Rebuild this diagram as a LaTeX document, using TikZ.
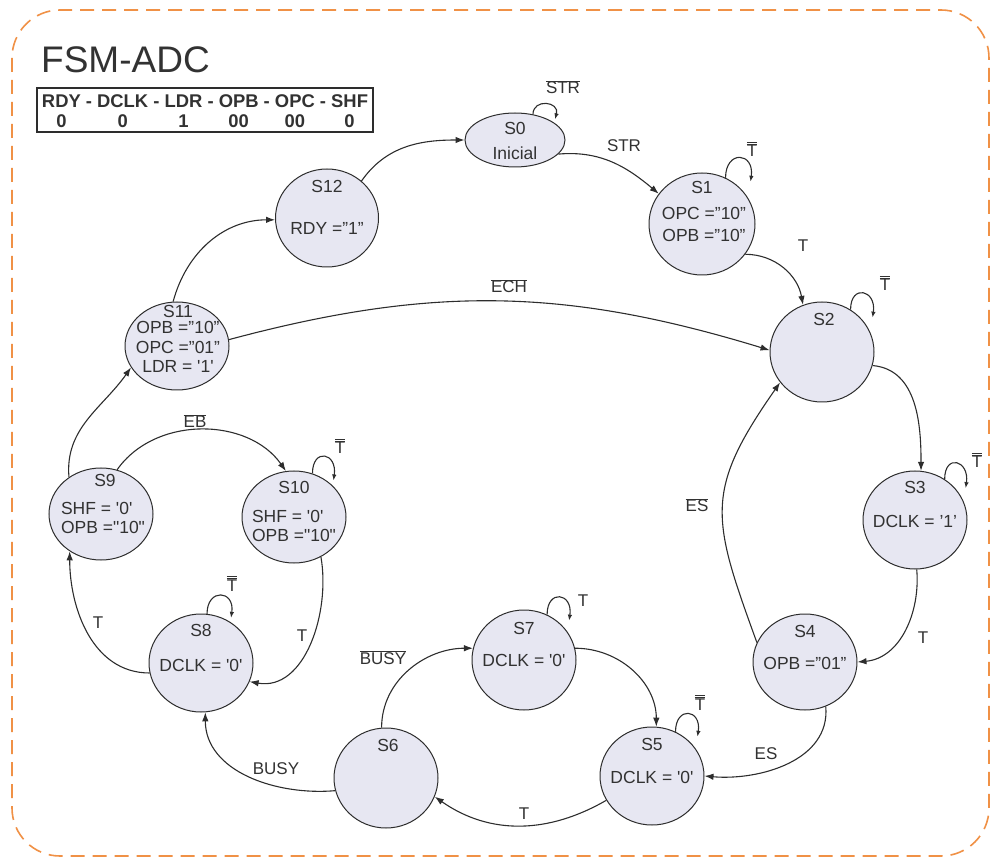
\documentclass[tikz,border=0pt]{standalone}
\usepackage{fontspec}
\setmainfont{Liberation Sans}[Ligatures=TeXOff]
\usepackage{xcolor}
\usepackage{tikz}
\usetikzlibrary{arrows.meta,shapes,positioning}

\definecolor{stfill}{RGB}{231,231,242}
\definecolor{edgecol}{RGB}{45,45,45}
\definecolor{txtcol}{RGB}{50,50,50}
\definecolor{framecol}{RGB}{240,145,70}

\newcommand{\nbar}[1]{$\overline{\mbox{#1}}$}
\newcommand{\nnbar}[1]{$\overline{\overline{\mbox{#1}}}$}

\begin{document}
\begin{tikzpicture}[x=1pt,y=1pt,
    state/.style={draw=edgecol, fill=stfill, ellipse, line width=1pt, minimum width=104pt, minimum height=98pt, inner sep=0pt},
    txt/.style={text=txtcol, font=\fontsize{17.5}{20}\selectfont, inner sep=0pt, align=center},
    lbl/.style={text=txtcol, font=\fontsize{17}{20}\selectfont, inner sep=0pt, anchor=base},
    tr/.style={->, >={Latex[length=9pt,width=6.5pt]}, draw=edgecol, line width=1.1pt},
    selfloop/.style={->, >={Latex[length=6pt,width=4.5pt]}, draw=edgecol, line width=1.1pt}]

    \useasboundingbox (0,0) rectangle (994,-858);
    \draw[framecol, line width=1.6pt, dash pattern=on 14pt off 8pt, rounded corners=48pt] (12,-10) rectangle (989,-856);

    \node[anchor=base west, text=txtcol, font=\fontsize{37}{40}\selectfont, inner sep=0pt] (title) at (41,-73) {FSM-ADC};
    \node[draw=edgecol, line width=1.5pt, inner sep=0pt, minimum width=336pt, minimum height=44pt] (tab) at (205,-110) {};
    \node[inner sep=0pt, text=txtcol, font=\bfseries\fontsize{18.4}{20}\selectfont] (tabt) at (205,-114)
        {\begin{tabular}{@{}c@{ }c@{ }c@{ }c@{ }c@{ }c@{ }c@{ }c@{ }c@{ }c@{ }c@{}}RDY & - & DCLK & - & LDR & - & OPB & - & OPC & - & SHF\\ 0 && 0 && 1 && 00 && 00 && 0\end{tabular}};

    % states
    \node[state, minimum width=100pt, minimum height=54pt] (S0) at (515,-140) {};
    \node[state, minimum width=106pt, minimum height=102pt] (S1) at (702,-224) {};
    \node[state, minimum width=103pt] (S12) at (327,-218) {};
    \node[state, minimum height=88pt] (S11) at (177,-346) {};
    \node[state, minimum height=100pt] (S2) at (822,-352) {};
    \node[state] (S3) at (915,-520) {};
    \node[state, minimum height=96pt] (S4) at (805,-662) {};
    \node[state] (S5) at (652,-776) {};
    \node[state, minimum height=100pt] (S7) at (524,-660) {};
    \node[state, minimum height=100pt] (S6) at (386,-778) {};
    \node[state] (S8) at (201,-663) {};
    \node[state, minimum height=92pt] (S9) at (101,-514) {};
    \node[state, minimum height=92pt] (S10) at (294,-517) {};

    % state texts
    \node[txt] (S0n) at (515,-128) {S0};
    \node[txt] (S0t) at (515,-153) {Inicial};
    \node[txt] (S1n) at (702,-187) {S1};
    \node[txt, font=\fontsize{17.5}{22}\selectfont] (S1t) at (704,-224) {OPC =”10”\\OPB =”10”};
    \node[txt] (S12n) at (327,-186) {S12};
    \node[txt] (S12t) at (327,-228) {RDY =”1”};
    \node[txt] (S11n) at (178,-311) {S11};
    \node[txt, font=\fontsize{17.5}{19.5}\selectfont] (S11t) at (178,-347) {OPB =”10”\\OPC =”01”\\LDR = '1'};
    \node[txt] (S2n) at (824,-319) {S2};
    \node[txt] (S3n) at (915,-487) {S3};
    \node[txt] (S3t) at (915,-521) {DCLK = ’1’};
    \node[txt] (S4n) at (805,-631) {S4};
    \node[txt] (S4t) at (805,-663) {OPB =”01”};
    \node[txt] (S5n) at (652,-744) {S5};
    \node[txt] (S5t) at (652,-777) {DCLK = '0'};
    \node[txt] (S7n) at (524,-628) {S7};
    \node[txt] (S7t) at (524,-660) {DCLK = '0'};
    \node[txt] (S6n) at (388,-745) {S6};
    \node[txt] (S8n) at (201,-630) {S8};
    \node[txt] (S8t) at (201,-665) {DCLK = '0'};
    \node[txt] (S9n) at (105,-480) {S9};
    \node[txt, align=left, font=\fontsize{17.5}{19}\selectfont] (S9t) at (103,-517.5) {SHF = '0'\\OPB ="10"};
    \node[txt] (S10n) at (294,-487) {S10};
    \node[txt, align=left, font=\fontsize{17.5}{18.5}\selectfont] (S10t) at (294,-526) {SHF = '0'\\OPB ="10"};

    % transitions
    \draw[tr] (S12.47) to[out=55,in=180] (S0.180);
    \draw[tr] (S0.-18) to[out=5,in=140] (S1.145);
    \draw[tr] (S1.-35) to[out=0,in=100] (S2.112);
    \draw[tr] (S11.7) to[out=15,in=163] (S2.178);
    \draw[tr] (S2.-15) to[out=-5,in=90] (S3.83);
    \draw[tr] (S3.-88) to[out=-85,in=5] (S4.0);
    \draw[tr] (S4.158) to[out=110,in=235,looseness=1.3] (S2.-144);
    \draw[tr] (S4.-65) to[out=-85,in=-5] (S5.0);
    \draw[tr] (S7.13) to[out=0,in=90] (S5.85);
    \draw[tr] (S5.-152) to[out=-150,in=-35] (S6.-21);
    \draw[tr] (S6.95) to[out=90,in=180] (S7.167);
    \draw[tr] (S6.-166) to[out=185,in=-90] (S8.-85);
    \draw[tr] (S10.-56) to[out=-80,in=-10] (S8.-21);
    \draw[tr] (S8.191) to[out=180,in=-90] (S9.-130);
    \draw[tr] (S9.70) to[out=55,in=125] (S10.100);
    \draw[tr] (S9.131) to[out=95,in=235] (S11.205);
    \draw[tr] (S11.95) to[out=75,in=180] (S12.182);

    % self loops
    \draw[selfloop] (S0.55) .. controls +(0,16) and +(5,18) .. +(22,-5);
    \draw[selfloop] (S1.63) .. controls +(0,28) and +(4,30) .. +(25,-4);
    \draw[selfloop] (S2.56) .. controls +(0,26) and +(4,28) .. +(22,-8);
    \draw[selfloop] (S3.54) .. controls +(0,26) and +(4,28) .. +(21,-9);
    \draw[selfloop] (S5.62) .. controls +(0,26) and +(4,28) .. +(22,-5);
    \draw[selfloop] (S7.63) .. controls +(0,26) and +(4,28) .. +(22,-6);
    \draw[selfloop] (S8.83) .. controls +(0,26) and +(4,28) .. +(24,-4);
    \draw[selfloop] (S10.67) .. controls +(0,26) and +(4,28) .. +(21,-7);

    % labels
    \node[lbl] (lS0) at (563,-94) {\nbar{STR}};
    \node[lbl] (lS0S1) at (624,-152) {STR};
    \node[lbl] (lS1) at (752,-157) {\nnbar{T}};
    \node[lbl] (lS1S2) at (803,-252) {T};
    \node[lbl] (lS11S2) at (509,-293) {\nbar{ECH}};
    \node[lbl] (lS2) at (885,-291) {\nnbar{T}};
    \node[lbl] (lS3) at (977,-468) {\nnbar{T}};
    \node[lbl] (lS3S4) at (923,-643) {T};
    \node[lbl] (lS4S2) at (697,-512) {\nbar{ES}};
    \node[lbl] (lS4S5) at (766,-759) {ES};
    \node[lbl] (lS5) at (700,-710) {\nnbar{T}};
    \node[lbl] (lS7) at (583,-606) {T};
    \node[lbl] (lS5S6) at (524,-819) {T};
    \node[lbl] (lS6S7) at (383,-664) {\nbar{BUSY}};
    \node[lbl] (lS6S8) at (276,-774) {BUSY};
    \node[lbl] (lS8) at (232,-591) {\nnbar{T}};
    \node[lbl] (lS10S8) at (302,-641) {T};
    \node[lbl] (lS8S9) at (98,-628) {T};
    \node[lbl] (lS9S10) at (195,-428) {\nbar{EB}};
    \node[lbl] (lS10) at (340,-454) {\nnbar{T}};
\end{tikzpicture}
\end{document}
